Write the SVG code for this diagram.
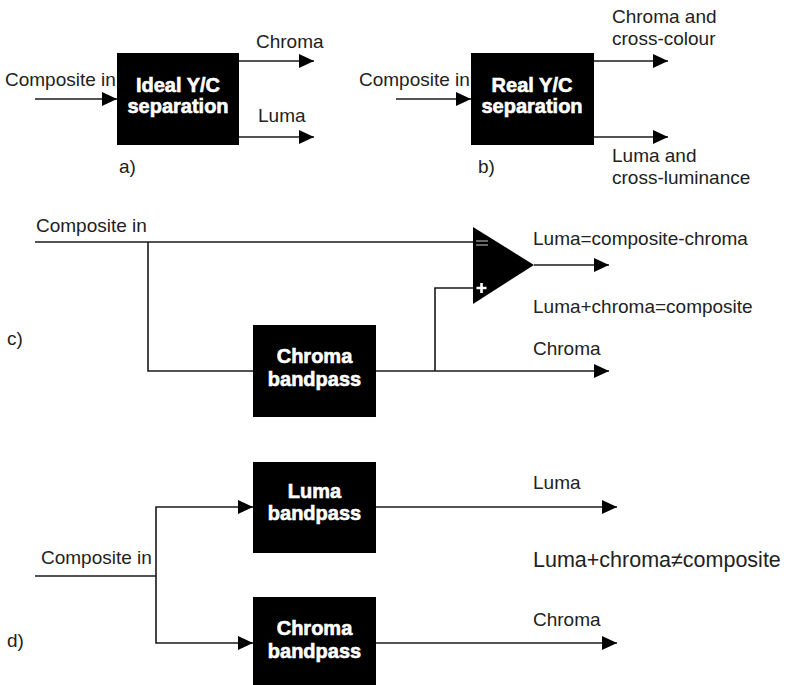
<svg xmlns="http://www.w3.org/2000/svg" width="789" height="685" viewBox="0 0 789 685">
  <style>
    .lbl { font-family: "Liberation Sans", Arial, sans-serif; font-size: 19px; fill: #222; }
    .big { font-size: 21.5px; }
    .box { fill: #000; }
    .bt { font-family: "Liberation Sans", Arial, sans-serif; font-weight: bold; font-size: 20px; fill: #fff; stroke: #fff; stroke-width: 0.6; text-anchor: middle; }
    .wire { fill: none; stroke: #1a1a1a; stroke-width: 1.6; }
    .arr { marker-end: url(#head); }
  </style>
  <defs>
    <marker id="head" markerUnits="userSpaceOnUse" markerWidth="16" markerHeight="14" refX="15" refY="7" orient="auto">
      <path d="M0,0 L15,7 L0,14 Z" fill="#000"/>
    </marker>
  </defs>

  <rect width="789" height="685" fill="#fff"/>

  <!-- a) ideal separation -->
  <g id="a-ideal">
    <rect class="box" x="117" y="53" width="122" height="92"/>
    <text class="bt" x="178" y="92">Ideal Y/C</text>
    <text class="bt" x="178" y="113">separation</text>
  </g>
  <!-- b) real separation -->
  <g id="b-real">
    <rect class="box" x="471" y="53" width="123" height="92"/>
    <text class="bt" x="532" y="92">Real Y/C</text>
    <text class="bt" x="532" y="113">separation</text>
  </g>
  <!-- c) chroma bandpass + subtractor -->
  <g id="c-chroma-bp">
    <rect class="box" x="253" y="325" width="123" height="92"/>
    <text class="bt" x="314.5" y="363">Chroma</text>
    <text class="bt" x="314.5" y="386">bandpass</text>
  </g>
  <g id="c-subtractor">
    <polygon points="473,227 534,265 473,304" fill="#000"/>
    <path d="M476,241 H488 M476,245 H488" stroke="#888" stroke-width="1.3"/>
    <path d="M476.5,288 H486.5 M481.5,283 V293" stroke="#fff" stroke-width="2.6"/>
  </g>
  <!-- d) separate filters -->
  <g id="d-luma-bp">
    <rect class="box" x="253" y="462" width="123" height="91"/>
    <text class="bt" x="314.5" y="498">Luma</text>
    <text class="bt" x="314.5" y="520">bandpass</text>
  </g>
  <g id="d-chroma-bp">
    <rect class="box" x="253" y="597" width="123" height="92"/>
    <text class="bt" x="314.5" y="635">Chroma</text>
    <text class="bt" x="314.5" y="658">bandpass</text>
  </g>

  <g id="connectors">
    <!-- a -->
    <path class="wire arr" d="M35,99 H117"/>
    <path class="wire arr" d="M239,61 H314"/>
    <path class="wire arr" d="M239,137 H314"/>
    <!-- b -->
    <path class="wire arr" d="M396,99 H471"/>
    <path class="wire arr" d="M594,61 H668"/>
    <path class="wire arr" d="M594,137 H668"/>
    <!-- c -->
    <path class="wire" d="M35,242 H473"/>
    <path class="wire" d="M148,242 V371 H253"/>
    <path class="wire arr" d="M376,371 H609"/>
    <path class="wire" d="M435,371 V288 H473"/>
    <path class="wire arr" d="M534,265 H609"/>
    <!-- d -->
    <path class="wire" d="M35,576 H156"/>
    <path class="wire arr" d="M156,576 V507 H253"/>
    <path class="wire arr" d="M156,576 V643 H253"/>
    <path class="wire arr" d="M376,507 H617"/>
    <path class="wire arr" d="M376,643 H617"/>
  </g>

  <g id="labels">
    <text class="lbl" x="5" y="86">Composite in</text>
    <text class="lbl" x="256" y="48">Chroma</text>
    <text class="lbl" x="258" y="122">Luma</text>
    <text class="lbl" x="119" y="173">a)</text>

    <text class="lbl" x="359" y="86">Composite in</text>
    <text class="lbl" x="612" y="23">Chroma and</text>
    <text class="lbl" x="612" y="45">cross-colour</text>
    <text class="lbl" x="612" y="162">Luma and</text>
    <text class="lbl" x="612" y="184">cross-luminance</text>
    <text class="lbl" x="478" y="173">b)</text>

    <text class="lbl" x="36" y="232">Composite in</text>
    <text class="lbl" x="7" y="345">c)</text>
    <text class="lbl" x="533" y="245">Luma=composite-chroma</text>
    <text class="lbl" x="533" y="313">Luma+chroma=composite</text>
    <text class="lbl" x="533" y="355">Chroma</text>

    <text class="lbl" x="41" y="564">Composite in</text>
    <text class="lbl" x="7" y="647">d)</text>
    <text class="lbl" x="533" y="489">Luma</text>
    <text class="lbl big" x="533" y="567">Luma+chroma≠composite</text>
    <text class="lbl" x="533" y="626">Chroma</text>
  </g>
</svg>
